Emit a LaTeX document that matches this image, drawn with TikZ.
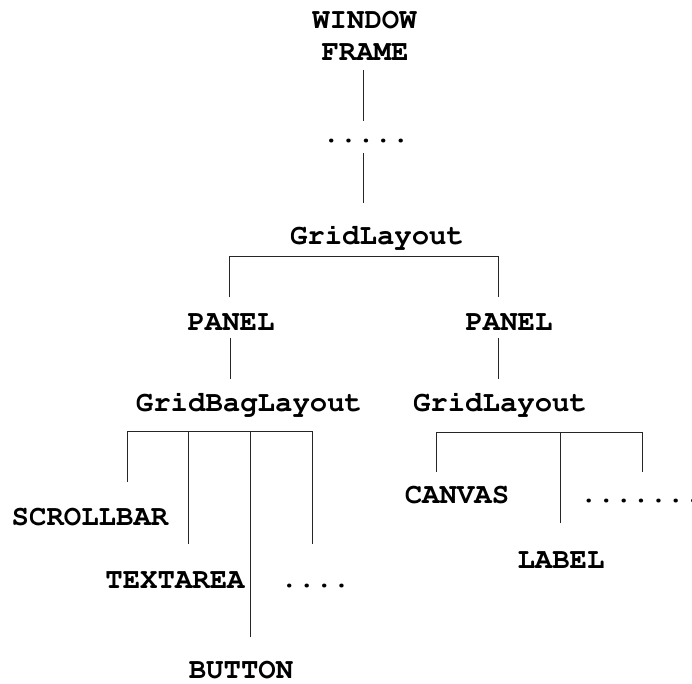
\documentclass[tikz,border=0pt]{standalone}
\usepackage[T1,TU]{fontenc}
\newcommand\courbold{\fontencoding{T1}\fontfamily{pcr}\fontseries{b}\fontshape{n}\fontsize{29}{34}\selectfont}
\begin{document}
\begin{tikzpicture}[x=1pt,y=-1pt,
  lbl/.style={inner sep=0pt,anchor=base,font=\courbold},
  wire/.style={draw=black!85,line width=0.9pt}]
\useasboundingbox[fill=white] (0,0) rectangle (692,683);

% labels
\node[lbl] (window) at (364.5,28) {WINDOW};
\node[lbl] (frame)  at (365,60)   {FRAME};
\node[lbl] (dotsA)  at (366,142)  {.....};
\node[lbl] (gridA)  at (377,244)  {GridLayout};
\node[lbl] (panelL) at (231,330)  {PANEL};
\node[lbl] (panelR) at (509,330)  {PANEL};
\node[lbl] (gbag)   at (249,411)  {GridBagLayout};
\node[lbl] (gridB)  at (500,411)  {GridLayout};
\node[lbl] (scroll) at (90,525)   {SCROLLBAR};
\node[lbl] (text)   at (175,588)  {TEXTAREA};
\node[lbl] (dotsB)  at (315.5,587){....};
\node[lbl] (button) at (241,678)  {BUTTON};
\node[lbl] (canvas) at (457,503)  {CANVAS};
\node[lbl,anchor=base west] (dotsC) at (580,502) {.......};
\node[lbl] (label)  at (561,568)  {LABEL};

% trunk
\coordinate (t1) at (363,70);  \coordinate (t2) at (363,121);
\coordinate (t3) at (363,153); \coordinate (t4) at (363,203);
\draw[wire] (t1) -- (t2);
\draw[wire] (t3) -- (t4);

% first split
\coordinate (s1) at (229,297); \coordinate (s2) at (498,297);
\draw[wire] (s1) |- (s2 |- 0,256) -- (s2);

% panel to layout
\coordinate (p1) at (230,338); \coordinate (p2) at (230,379);
\coordinate (p3) at (498,338); \coordinate (p4) at (498,379);
\draw[wire] (p1) -- (p2);
\draw[wire] (p3) -- (p4);

% GridBagLayout children
\coordinate (ga) at (127,482); \coordinate (gb) at (188,544);
\coordinate (gc) at (250,637); \coordinate (gd) at (312,544);
\draw[wire] (ga) |- (gd |- 0,431) -- (gd);
\draw[wire] (gb) -- (gb |- 0,431);
\draw[wire] (gc) -- (gc |- 0,431);

% GridLayout children
\coordinate (ra) at (436,472); \coordinate (rb) at (560,523);
\coordinate (rc) at (642,472);
\draw[wire] (ra) |- (rc |- 0,432) -- (rc);
\draw[wire] (rb) -- (rb |- 0,432);
\end{tikzpicture}
\end{document}
